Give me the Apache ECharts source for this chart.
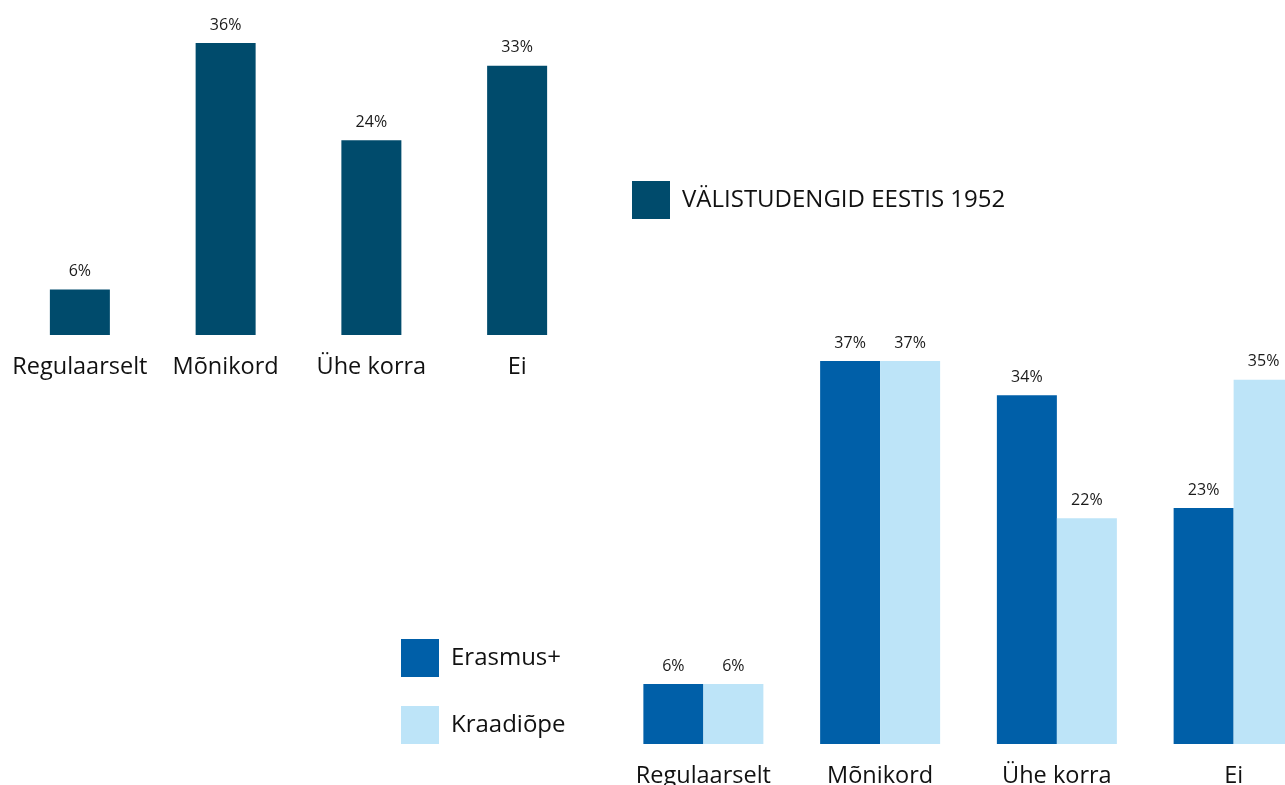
<!DOCTYPE html>
<html><head><meta charset="utf-8">
<script src="https://cdn.jsdelivr.net/npm/echarts@6/dist/echarts.min.js"></script>
<style>html,body{margin:0;padding:0;background:#fff}#c{width:1285px;height:785px}</style>
</head><body><div id="c"></div>
<script>
const categories = ['Regulaarselt', 'Mõnikord', 'Ühe korra', 'Ei'];
const topSeriesName = 'VÄLISTUDENGID EESTIS 1952';
const topValues = [5.6, 36, 24, 33.2];
const erasmusName = 'Erasmus+';
const erasmusValues = [5.8, 37, 33.7, 22.8];
const kraadName = 'Kraadiõpe';
const kraadValues = [5.8, 37, 21.8, 35.2];

const FONT = '"Open Sans", sans-serif';
const labelCfg = {
  show: true, position: 'top', distance: 10, color: '#1a1a1a', fontSize: 16, fontFamily: FONT,
  formatter: p => Math.round(p.value) + '%'
};
const axisLabel = { color: '#111', fontSize: 23.5, fontFamily: FONT, margin: 20, interval: 0 };

const chart = echarts.init(document.getElementById('c'), null, {renderer: 'canvas'});
chart.setOption({
  animation: false,
  backgroundColor: '#fff',
  legend: [
    { data: [topSeriesName], left: 627, top: 176, itemWidth: 38, itemHeight: 38, icon: 'rect',
      textStyle: { fontSize: 24, fontFamily: FONT, color: '#111', padding: [0, 0, 0, 7] } },
    { data: [erasmusName, kraadName], orient: 'vertical', left: 396, top: 634, itemWidth: 38, itemHeight: 38,
      itemGap: 29, icon: 'rect',
      textStyle: { fontSize: 24, fontFamily: FONT, color: '#111', padding: [0, 0, 0, 7] } }
  ],
  grid: [
    { left: 7, width: 583, top: 10.6, bottom: 450, outerBoundsMode: 'none', containLabel: false },
    { left: 615, width: 707, top: 330, bottom: 41, outerBoundsMode: 'none', containLabel: false }
  ],
  xAxis: [
    { type: 'category', gridIndex: 0, data: categories, axisLine: {show: false}, axisTick: {show: false}, axisLabel },
    { type: 'category', gridIndex: 1, data: categories, axisLine: {show: false}, axisTick: {show: false}, axisLabel }
  ],
  yAxis: [
    { type: 'value', gridIndex: 0, min: 0, max: 40, show: false, splitLine: {show: false} },
    { type: 'value', gridIndex: 1, min: 0, max: 40, show: false, splitLine: {show: false} }
  ],
  series: [
    { name: topSeriesName, type: 'bar', xAxisIndex: 0, yAxisIndex: 0, data: topValues, barWidth: 60,
      itemStyle: { color: '#004b6c' }, label: labelCfg },
    { name: erasmusName, type: 'bar', xAxisIndex: 1, yAxisIndex: 1, data: erasmusValues, barWidth: 60, barGap: '0%',
      itemStyle: { color: '#005fa8' }, label: labelCfg },
    { name: kraadName, type: 'bar', xAxisIndex: 1, yAxisIndex: 1, data: kraadValues, barWidth: 60, barGap: '0%',
      itemStyle: { color: '#bde4f8' }, label: labelCfg }
  ]
});
</script></body></html>
